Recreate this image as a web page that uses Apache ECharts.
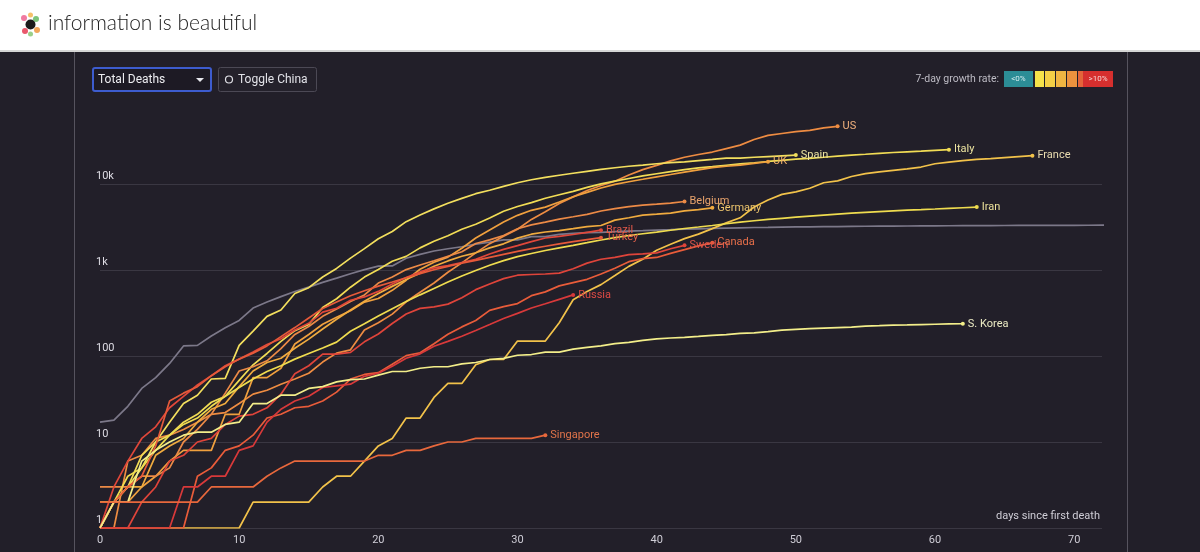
<!DOCTYPE html>
<html lang="en">
<head>
	<meta charset="UTF-8">
	<title>Total Deaths - days since first death</title>
	<style>
		html, body { margin: 0; padding: 0; background: #221f29; }
	</style>
</head>
<body>
<div id="chart" style="width:1200px;height:552px;"></div>
<script src="https://cdn.jsdelivr.net/npm/echarts@6/dist/echarts.min.js"></script>
<script>
	// cumulative deaths, index = days since first death
	var countries = ['US', 'Italy', 'Spain', 'UK', 'France', 'Belgium', 'Germany', 'Iran',
		'Brazil', 'Turkey', 'Sweden', 'Canada', 'Russia', 'S. Korea', 'Singapore', 'China'];

	var us = [1,1,6,7,11,12,14,17,21,22,28,36,40,47,54,63,85,108,118,200,244,307,427,552,706,942,1209,1581,2026,2467,
		2978,3873,4757,5926,7087,8407,9619,10783,12722,14695,16478,18586,20463,22020,23529,25832,28326,32916,36773,38664,
		40661,42094,44845,46785];
	var italy = [1,2,3,7,10,12,17,21,29,34,52,79,107,148,197,233,366,463,631,827,1016,1266,1441,1809,2158,2503,2978,3405,
		4032,4825,5476,6077,6820,7503,8215,9134,10023,10779,11591,12428,13155,13915,14681,15362,15887,16523,17127,17669,
		18279,18849,19468,19899,20465,21067,21645,22170,22745,23227,23660,24114,24648,25085];
	var spain = [1,2,3,5,10,17,28,35,54,55,133,195,289,342,533,623,830,1043,1375,1772,2311,2808,3647,4365,5138,5982,6803,
		7716,8464,9387,10348,11198,11947,12641,13341,14045,14792,15447,16081,16606,17209,17756,18056,18708,19315,20002,
		20043,20453,20852,21282,21717];
	var uk = [1,2,2,3,4,6,8,8,8,21,21,56,56,72,138,178,234,282,336,423,466,580,761,1021,1231,1411,1793,2357,2926,3611,
		4320,4943,5385,6171,7111,7993,8974,9892,10629,11347,12129,12894,13759,14607,15498,16095,16550,17378,18151];
	var france = [1,1,1,1,1,1,1,1,1,1,1,2,2,2,2,2,3,4,4,6,9,11,19,19,33,48,48,79,91,91,149,149,149,244,451,563,676,862,
		1102,1333,1698,1997,2317,2611,3030,3532,4043,5398,6520,7574,8093,8926,10343,10887,12228,13215,13851,14412,14986,
		15748,17188,17941,18703,19345,19744,20292,20829,21373];
	var belgium = [3,3,3,4,4,5,10,14,21,37,67,75,88,122,178,220,289,353,431,513,705,828,1011,1143,1283,1447,1632,2035,
		2240,2523,3019,3346,3600,3903,4157,4440,4857,5163,5453,5683,5828,5998,6262];
	var germany = [2,2,3,3,7,9,11,17,24,28,44,67,84,94,123,157,206,267,342,433,533,645,775,920,1107,1275,1444,1584,1810,
		2016,2349,2607,2767,2871,3022,3194,3294,3804,4052,4352,4459,4586,4862,5033,5279];
	var iran = [2,2,4,5,8,12,16,19,26,34,43,54,66,77,92,107,124,145,194,237,291,354,429,514,611,724,853,988,1135,1284,
		1433,1556,1685,1812,1934,2077,2234,2378,2517,2640,2757,2898,3036,3160,3294,3452,3603,3739,3872,3993,4110,4232,
		4357,4474,4585,4683,4777,4869,4958,5031,5118,5209,5297,5391];
	var brazil = [1,3,6,11,15,25,34,46,59,77,92,111,136,159,201,240,324,359,445,486,564,686,819,950,1057,1124,1223,1328,
		1532,1736,1924,2141,2354,2462,2587,2741,2906];
	var turkey = [1,2,3,4,9,30,37,44,59,75,92,108,131,168,214,277,356,425,501,574,649,725,812,908,1006,1101,1198,1296,
		1403,1518,1643,1769,1890,2017,2140,2259,2376];
	var sweden = [1,1,1,2,3,6,7,10,11,16,20,21,25,36,62,77,105,105,110,146,180,239,308,358,373,401,477,591,687,793,870,
		887,899,919,1033,1203,1333,1400,1511,1540,1580,1765,1937];
	var canada = [1,1,1,1,1,1,1,4,5,8,9,12,19,21,25,26,30,38,54,61,64,80,101,109,139,179,218,259,339,375,407,503,557,654,
		714,779,899,1048,1250,1357,1399,1563,1725,1908,2075];
	var russia = [1,1,1,1,1,1,3,3,4,4,8,9,17,24,30,34,43,45,47,58,63,76,94,106,130,148,170,198,232,273,313,361,405,456,513];
	var korea = [1,2,2,6,8,10,12,13,13,16,17,28,28,35,35,42,44,50,53,54,60,66,66,72,75,75,81,84,91,94,102,104,111,111,
		120,126,131,139,144,152,158,162,165,169,174,177,183,186,192,200,204,208,211,214,217,222,225,229,230,232,234,236,237];
	var singapore = [2,2,2,2,2,2,2,2,3,3,3,3,4,5,6,6,6,6,6,6,7,7,8,8,9,10,10,11,11,11,11,11,12];
	var china = [17,18,26,42,56,82,131,133,171,213,259,361,425,490,562,632,717,804,904,1011,1111,1116,1368,1520,1662,1765,
		1863,2002,2114,2236,2236,2441,2443,2593,2663,2715,2744,2788,2835,2870,2912,2943,2981,3012,3042,3070,3097,3119,
		3136,3158,3169,3176,3189,3199,3213,3226,3237,3245,3249,3255,3261,3270,3277,3281,3285,3291,3296,3299,3304,3308,
		3309,3316,3322,3326];

	var values = [us, italy, spain, uk, france, belgium, germany, iran, brazil, turkey, sweden, canada, russia, korea, singapore, china];
	var lineColors = ['#ee8c42', '#f1dc55', '#f3df5e', '#f0a03e', '#f2c24a', '#ec8a46', '#f0ab3f', '#efdc4f',
		'#e0473a', '#e65a3a', '#df443a', '#e95c3a', '#d8393a', '#f3ee8a', '#e8683c', '#7c7889'];
	var labelColors = ['#f2b27e', '#ece3a0', '#ece3a0', '#f0b06a', '#eadcb0', '#eaa46c', '#ecc46c', '#ece19a',
		'#e2594a', '#e5614a', '#e0554a', '#e9704a', '#dd4a44', '#ecebc4', '#e0744a', '#7c7889'];

	var yTicks = [1, 10, 100, 1000, 10000];
	var yTickLabels = ['1', '10', '100', '1k', '10k'];

	var myChart = echarts.init(document.getElementById('chart'));

	var series = countries.map(function (name, k) {
		var arr = values[k];
		var last = arr.length - 1;
		var isChina = name === 'China';
		return {
			name: name,
			type: 'line',
			data: arr.map(function (v, i) { return [i, v]; }),
			showSymbol: !isChina,
			showAllSymbol: true,
			symbol: 'circle',
			symbolSize: function (val, params) {
				return params.dataIndex === last ? 4 : 0;
			},
			itemStyle: { color: lineColors[k] },
			lineStyle: { color: lineColors[k], width: 1.7 },
			z: isChina ? 1 : 2,
			endLabel: {
				show: !isChina,
				formatter: '{a}',
				color: labelColors[k],
				fontSize: 11,
				fontFamily: 'Roboto',
				distance: 5
			},
			emphasis: { disabled: true }
		};
	});

	var option = {
		backgroundColor: '#221f29',
		animation: false,
		textStyle: { fontFamily: 'Roboto' },
		grid: { left: 100, right: 98, top: 98, bottom: 24 },
		xAxis: {
			type: 'value',
			min: 0,
			max: 72,
			interval: 10,
			axisLine: { show: false },
			axisTick: { show: false },
			splitLine: { show: false },
			axisLabel: { color: '#cfcdd6', fontSize: 11, margin: 7, showMaxLabel: false }
		},
		yAxis: {
			type: 'log',
			logBase: 10,
			min: 1,
			max: 100000,
			axisLine: { show: false },
			axisTick: { show: false },
			splitLine: {
				show: true,
				lineStyle: { color: ['#3a3742', '#3a3742', '#3a3742', '#3a3742', '#3a3742', 'rgba(0,0,0,0)'], width: 1 }
			},
			axisLabel: {
				inside: true,
				margin: -4,
				verticalAlign: 'bottom',
				padding: [0, 0, 2, 0],
				color: '#dedce4',
				fontSize: 11,
				formatter: function (v) {
					var idx = yTicks.indexOf(Math.round(v));
					return idx >= 0 ? yTickLabels[idx] : '';
				}
			}
		},
		graphic: [
			// header
			{ type: 'rect', left: 0, top: 0, shape: { width: 1200, height: 50 }, style: { fill: '#ffffff' }, z: 10 },
			{ type: 'rect', left: 0, top: 50, shape: { width: 1200, height: 2 }, style: { fill: '#d6d6d6' }, z: 10 },
			{ type: 'circle', shape: { cx: 24, cy: 18, r: 3 }, style: { fill: '#f07aa0' }, z: 11 },
			{ type: 'circle', shape: { cx: 36, cy: 19, r: 3 }, style: { fill: '#7cc47a' }, z: 11 },
			{ type: 'circle', shape: { cx: 37, cy: 30, r: 3 }, style: { fill: '#f2a65a' }, z: 11 },
			{ type: 'circle', shape: { cx: 25, cy: 31, r: 3 }, style: { fill: '#e9586c' }, z: 11 },
			{ type: 'circle', shape: { cx: 30.5, cy: 15, r: 2.5 }, style: { fill: '#f5c16a' }, z: 11 },
			{ type: 'circle', shape: { cx: 30.5, cy: 34, r: 2.5 }, style: { fill: '#9ad08a' }, z: 11 },
			{ type: 'circle', shape: { cx: 30.5, cy: 24.5, r: 5 }, style: { fill: '#1b1b1b' }, z: 12 },
			{ type: 'text', left: 48, top: 13, style: { text: 'information is beautiful', fill: '#222222', font: '300 21px Lato' }, z: 11 },
			// panel borders
			{ type: 'rect', left: 74, top: 52, shape: { width: 1, height: 500 }, style: { fill: '#56535e' }, z: 5 },
			{ type: 'rect', left: 1127, top: 52, shape: { width: 1, height: 500 }, style: { fill: '#56535e' }, z: 5 },
			// controls
			{ type: 'rect', shape: { x: 93, y: 68, width: 118, height: 23, r: 2 }, style: { fill: '#1d1a24', stroke: '#3d5ccf', lineWidth: 2 }, z: 5 },
			{ type: 'text', x: 98, y: 80, style: { text: 'Total Deaths', fill: '#ececf0', font: '12px Roboto', textVerticalAlign: 'middle' }, z: 6 },
			{ type: 'polygon', shape: { points: [[196, 78], [204, 78], [200, 82]] }, style: { fill: '#e8e8ee' }, z: 6 },
			{ type: 'rect', shape: { x: 218.5, y: 67.5, width: 98, height: 24, r: 2 }, style: { fill: '#24212b', stroke: '#4c4955', lineWidth: 1 }, z: 5 },
			{ type: 'circle', shape: { cx: 229, cy: 79.5, r: 3.5 }, style: { fill: 'none', stroke: '#e2e2e8', lineWidth: 1.2 }, z: 6 },
			{ type: 'text', x: 238, y: 80, style: { text: 'Toggle China', fill: '#e2e2e8', font: '12px Roboto', textVerticalAlign: 'middle' }, z: 6 },
			// growth legend
			{ type: 'text', x: 999, y: 79, style: { text: '7-day growth rate:', fill: '#bdbbc4', font: '10.5px Roboto', textAlign: 'right', textVerticalAlign: 'middle' }, z: 6 },
			{ type: 'rect', shape: { x: 1004, y: 71, width: 29, height: 16 }, style: { fill: '#2c8d96' }, z: 6 },
			{ type: 'text', x: 1018.5, y: 79, style: { text: '<0%', fill: '#d8eef0', font: '8px Roboto', textAlign: 'center', textVerticalAlign: 'middle' }, z: 7 },
			{ type: 'rect', shape: { x: 1035, y: 71, width: 9, height: 16 }, style: { fill: '#f5e24a' }, z: 6 },
			{ type: 'rect', shape: { x: 1045, y: 71, width: 10, height: 16 }, style: { fill: '#f3cf46' }, z: 6 },
			{ type: 'rect', shape: { x: 1056, y: 71, width: 10, height: 16 }, style: { fill: '#efb542' }, z: 6 },
			{ type: 'rect', shape: { x: 1067, y: 71, width: 10, height: 16 }, style: { fill: '#ec923e' }, z: 6 },
			{ type: 'rect', shape: { x: 1078, y: 71, width: 5, height: 16 }, style: { fill: '#e4643a' }, z: 6 },
			{ type: 'rect', shape: { x: 1083, y: 71, width: 30, height: 16 }, style: { fill: '#d62f2e' }, z: 6 },
			{ type: 'text', x: 1098, y: 79, style: { text: '>10%', fill: '#f6d6d6', font: '8px Roboto', textAlign: 'center', textVerticalAlign: 'middle' }, z: 7 },
			// axis caption
			{ type: 'text', x: 1100, y: 516, style: { text: 'days since first death', fill: '#cfcdd6', font: '11px Roboto', textAlign: 'right', textVerticalAlign: 'middle' }, z: 6 }
		],
		series: series
	};

	myChart.setOption(option);
</script>
</body>
</html>
